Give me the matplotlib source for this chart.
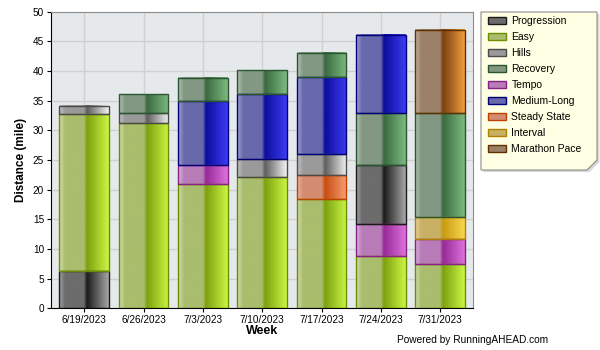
"""Weekly running distance by workout type, stacked bars."""

import numpy as np
import matplotlib
matplotlib.use('Agg')
import matplotlib.pyplot as plt
from matplotlib.colors import LinearSegmentedColormap
from matplotlib.patches import Patch, Polygon


WEEKS = ['6/19/2023', '6/26/2023', '7/3/2023', '7/10/2023',
         '7/17/2023', '7/24/2023', '7/31/2023']

TYPES = ['Progression', 'Easy', 'Hills', 'Recovery', 'Tempo',
         'Medium-Long', 'Steady State', 'Interval', 'Marathon Pace']

# stacking order per week (bottom to top) and the miles of each segment
WEEK_TYPES = [
    ['Progression', 'Easy', 'Hills'],
    ['Easy', 'Hills', 'Recovery'],
    ['Easy', 'Tempo', 'Medium-Long', 'Recovery'],
    ['Easy', 'Hills', 'Medium-Long', 'Recovery'],
    ['Easy', 'Steady State', 'Hills', 'Medium-Long', 'Recovery'],
    ['Easy', 'Tempo', 'Progression', 'Recovery', 'Medium-Long'],
    ['Easy', 'Tempo', 'Interval', 'Recovery', 'Marathon Pace'],
]
WEEK_MILES = [
    [6.3, 26.4, 1.4],
    [31.2, 1.7, 3.2],
    [20.9, 3.2, 10.8, 3.9],
    [22.1, 3.0, 11.0, 4.0],
    [18.5, 3.9, 3.6, 12.9, 4.1],
    [8.9, 5.3, 9.9, 8.8, 13.2],
    [7.4, 4.3, 3.7, 17.5, 14.0],
]

# light edge, flat left half, dark middle, bright right, outline
STYLES = {
    'Progression': ('#a4a4a4', '#6c6c6c', '#1c1c1c', '#a8a8a8', '#1a1a1a'),
    'Easy': ('#d6deb2', '#a9bd6d', '#7da10e', '#cbf744', '#6b8e00'),
    'Hills': ('#c4c4c4', '#9a9a9a', '#5e5e5e', '#f4f4f4', '#4a4a4a'),
    'Recovery': ('#b4c4b4', '#839883', '#3a6a40', '#7dba80', '#2a5530'),
    'Tempo': ('#dcb6dc', '#b87cb8', '#982898', '#dc74dc', '#882088'),
    'Medium-Long': ('#a4a4d2', '#6868ac', '#0c0c9c', '#3c3cf4', '#00007a'),
    'Steady State': ('#e6b8a4', '#d48c70', '#c84c10', '#f8a074', '#c04000'),
    'Interval': ('#e6d6a4', '#c8b064', '#c89a10', '#f8d850', '#b08000'),
    'Marathon Pace': ('#c6b6a6', '#9c8068', '#7a4010', '#f0a040', '#603000'),
}

BAR_WIDTH = 0.84
FONT = 'Liberation Sans'


def make_cmap(name):
    light, flat, dark, bright, _ = STYLES[name]
    return LinearSegmentedColormap.from_list(
        name, [(0.0, light), (0.12, flat), (0.5, flat),
               (0.56, dark), (1.0, bright)])


CMAPS = {name: make_cmap(name) for name in TYPES}
GRADIENT = np.linspace(0, 1, 256).reshape(1, -1)


plt.rcParams['font.family'] = [FONT, 'DejaVu Sans']

fig = plt.figure(figsize=(6, 3.5), dpi=100)
ax = fig.add_axes([0.085, 0.119, 0.703, 0.848])
ax.set_facecolor('#e6e9ec')

x_loc = np.arange(len(WEEKS))

for i, (types, miles) in enumerate(zip(WEEK_TYPES, WEEK_MILES)):
    bottom = 0.0
    for name, value in zip(types, miles):
        bars = ax.bar(x_loc[i], value, BAR_WIDTH, bottom=bottom,
                      facecolor='none', edgecolor=STYLES[name][4],
                      linewidth=1.0, zorder=3)
        rect = bars[0]
        x0, y0 = rect.get_x(), rect.get_y()
        ax.imshow(GRADIENT, cmap=CMAPS[name], aspect='auto',
                  extent=(x0, x0 + rect.get_width(), y0, y0 + rect.get_height()),
                  interpolation='bilinear', zorder=2)
        bottom += value

ax.set_xlim(-0.56, len(WEEKS) - 0.45)
ax.set_ylim(0, 50)
ax.set_yticks(range(0, 51, 5))
ax.set_xticks(x_loc)
ax.set_xticklabels(WEEKS)
ax.tick_params(labelsize=7.2, length=3, width=0.8, pad=2)
ax.grid(True, color='#d0d0d0', linewidth=1.0, zorder=0)
ax.set_axisbelow(True)

for side in ('top', 'right'):
    ax.spines[side].set_color('#8c8c8c')
for side in ('left', 'bottom'):
    ax.spines[side].set_color('#000000')

ax.set_xlabel('Week', fontsize=9, fontweight='bold', labelpad=0)
ax.set_ylabel('Distance (mile)', fontsize=8.5, fontweight='bold', labelpad=4)

# legend with a chamfered cream frame
handles = [Patch(facecolor=STYLES[name][1], edgecolor=STYLES[name][4],
                 linewidth=1.0, label=name) for name in TYPES]
fig.legend(handles=handles, loc='upper left', bbox_to_anchor=(0.802, 0.975),
           frameon=False, fontsize=7.5, handlelength=1.7, handleheight=0.6,
           handletextpad=0.5, labelspacing=0.58, borderpad=0.2)

fx0, fx1 = 481 / 600, 597 / 600
fy0, fy1 = 1 - 170 / 350, 1 - 12 / 350
cut = 10 / 600
shadow = Polygon([(fx0 + 0.004, fy0 - 0.006), (fx1 - cut + 0.004, fy0 - 0.006),
                  (fx1 + 0.004, fy0 + cut * 1.7 - 0.006),
                  (fx1 + 0.004, fy1 - 0.006), (fx0 + 0.004, fy1 - 0.006)],
                 closed=True, transform=fig.transFigure, facecolor='#d8d8d8',
                 edgecolor='none', zorder=-2)
frame = Polygon([(fx0, fy0), (fx1 - cut, fy0), (fx1, fy0 + cut * 1.7),
                 (fx1, fy1), (fx0, fy1)],
                closed=True, transform=fig.transFigure, facecolor='#ffffe3',
                edgecolor='#8c8c8c', linewidth=0.8, zorder=-1)
fig.patches.extend([shadow, frame])

fig.text(397 / 600, 1 - 340 / 350, 'Powered by RunningAHEAD.com',
         fontsize=7.3, ha='left', va='center')

fig.savefig('out.png', dpi=100)
